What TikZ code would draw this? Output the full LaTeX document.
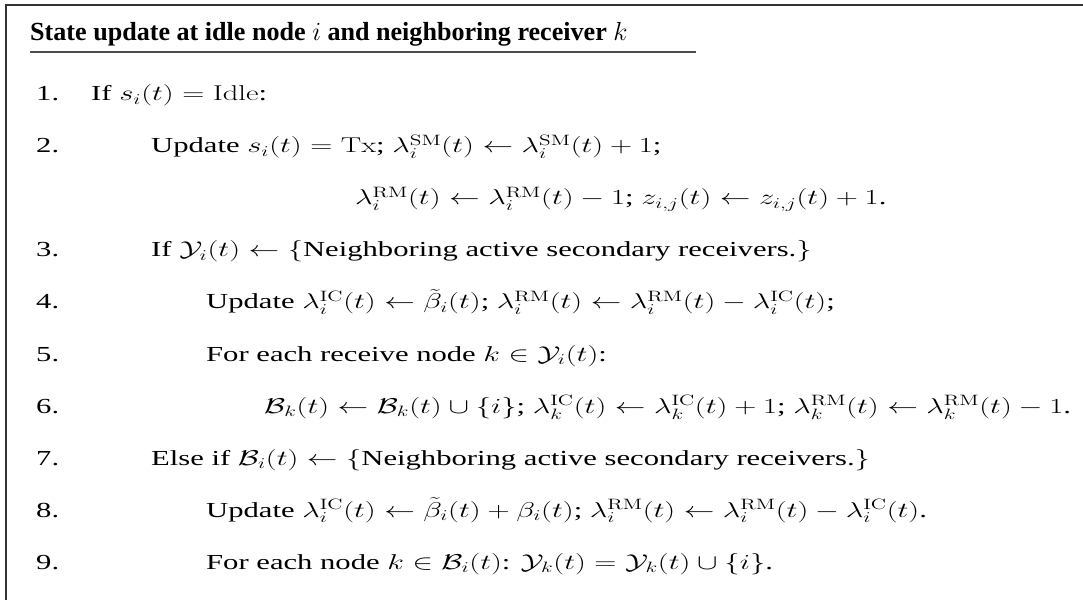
\documentclass[tikz,border=0pt]{standalone}
\usepackage{fix-cm}
\usepackage{graphicx}
\usepackage{amsmath,amssymb}
\usepackage[no-math]{fontspec}
\setmainfont{Liberation Serif}
\newcommand{\bodyfont}{\fontsize{21.5}{25}\selectfont}
\newcommand{\titlefont}{\fontsize{26.2}{30}\selectfont\bfseries}
% the listing body is set wide
\newcommand{\wide}[1]{\scalebox{1.43}[1]{#1}}
\begin{document}
\begin{tikzpicture}[x=1bp,y=-1bp,
  frame/.style={draw=black!80, line width=1.4bp},
  rule/.style={draw=black!70, line width=1.2bp},
  txt/.style={anchor=base west, inner sep=0pt, font=\bodyfont},
  num/.style={txt}]
\useasboundingbox (0,0) rectangle (1083,600);

% outer frame (open to the right and bottom)
\coordinate (fr) at (1083,5);
\coordinate (fl) at (6,5);
\coordinate (fb) at (6,600);
\draw[frame] (fr) -- (fl) -- (fb);

% heading with rule underneath
\node[anchor=base west, inner sep=0pt, font=\titlefont] (title) at (30,41)
  {State update at idle node $i$ and neighboring receiver $k$};
\coordinate (ul) at (30,52);
\coordinate (ur) at (696,52);
\draw[rule] (ul) -- (ur);

% step numbers
\node[num] (n1) at (36,101) {\wide{1.}};
\node[num] (n2) at (36,153) {\wide{2.}};
\node[num] (n3) at (36,257) {\wide{3.}};
\node[num] (n4) at (36,309) {\wide{4.}};
\node[num] (n5) at (36,361) {\wide{5.}};
\node[num] (n6) at (36,413) {\wide{6.}};
\node[num] (n7) at (36,465) {\wide{7.}};
\node[num] (n8) at (36,517) {\wide{8.}};
\node[num] (n9) at (36,569) {\wide{9.}};

% step bodies
\node[txt] (s1) at (91,101) {\wide{If $s_i(t) = \mathrm{Idle}$:}};
\node[txt] (s2) at (151,153) {\wide{Update $s_i(t) = \mathrm{Tx}$; $\lambda_i^{\mathrm{SM}}(t) \leftarrow \lambda_i^{\mathrm{SM}}(t) + 1$;}};
\node[txt] (s2b) at (355,205) {\wide{$\lambda_i^{\mathrm{RM}}(t) \leftarrow \lambda_i^{\mathrm{RM}}(t) - 1$; $z_{i,j}(t) \leftarrow z_{i,j}(t) + 1$.}};
\node[txt] (s3) at (151,257) {\wide{If $\mathcal{Y}_i(t) \leftarrow \{$Neighboring active secondary receivers.$\}$}};
\node[txt] (s4) at (206,309) {\wide{Update $\lambda_i^{\mathrm{IC}}(t) \leftarrow \tilde{\beta}_i(t)$; $\lambda_i^{\mathrm{RM}}(t) \leftarrow \lambda_i^{\mathrm{RM}}(t) - \lambda_i^{\mathrm{IC}}(t)$;}};
\node[txt] (s5) at (206,361) {\wide{For each receive node $k \in \mathcal{Y}_i(t)$:}};
\node[txt] (s6) at (264,413) {\wide{$\mathcal{B}_k(t) \leftarrow \mathcal{B}_k(t) \cup \{i\}$; $\lambda_k^{\mathrm{IC}}(t) \leftarrow \lambda_k^{\mathrm{IC}}(t) + 1$; $\lambda_k^{\mathrm{RM}}(t) \leftarrow \lambda_k^{\mathrm{RM}}(t) - 1$.}};
\node[txt] (s7) at (151,465) {\wide{Else if $\mathcal{B}_i(t) \leftarrow \{$Neighboring active secondary receivers.$\}$}};
\node[txt] (s8) at (206,517) {\wide{Update $\lambda_i^{\mathrm{IC}}(t) \leftarrow \tilde{\beta}_i(t) + \beta_i(t)$; $\lambda_i^{\mathrm{RM}}(t) \leftarrow \lambda_i^{\mathrm{RM}}(t) - \lambda_i^{\mathrm{IC}}(t)$.}};
\node[txt] (s9) at (206,569) {\wide{For each node $k \in \mathcal{B}_i(t)$: $\mathcal{Y}_k(t) = \mathcal{Y}_k(t) \cup \{i\}$.}};
\end{tikzpicture}
\end{document}
